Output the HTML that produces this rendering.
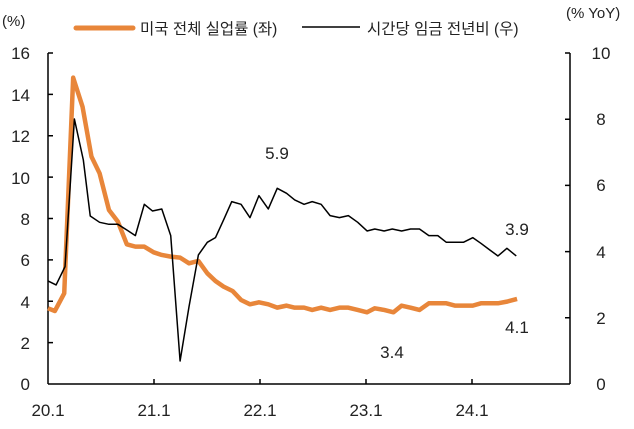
<!DOCTYPE html>
<html><head><meta charset="utf-8"><style>
body{margin:0;background:#fff}
svg text{font-family:"Liberation Sans","Noto Sans CJK KR",sans-serif;fill:#222}
</style></head><body>
<svg width="634" height="424" viewBox="0 0 634 424" xmlns="http://www.w3.org/2000/svg">
<g font-size="17">
<text x="2" y="26" font-size="15">(%)</text>
<text x="566" y="18" font-size="15">(% YoY)</text>
<line x1="76" y1="28" x2="133" y2="28" stroke="#E8863A" stroke-width="5" stroke-linecap="round"/>
<text x="140" y="34" font-size="15.5">미국 전체 실업률 (좌)</text>
<line x1="302" y1="27" x2="360" y2="27" stroke="#000" stroke-width="1.5"/>
<text x="367" y="34" font-size="15.5">시간당 임금 전년비 (우)</text>
<g text-anchor="end">
<text x="30" y="59">16</text><text x="30" y="101">14</text><text x="30" y="142">12</text><text x="30" y="184">10</text>
<text x="30" y="225">8</text><text x="30" y="266">6</text><text x="30" y="308">4</text><text x="30" y="349">2</text><text x="30" y="390">0</text>
</g>
<g text-anchor="middle">
<text x="601" y="59">10</text><text x="601" y="125">8</text><text x="601" y="191">6</text><text x="601" y="258">4</text><text x="601" y="324">2</text><text x="601" y="390">0</text>
<text x="48" y="416">20.1</text><text x="154" y="416">21.1</text><text x="260" y="416">22.1</text><text x="366" y="416">23.1</text><text x="472" y="416">24.1</text>
<text x="277" y="159">5.9</text><text x="517" y="235">3.9</text><text x="517" y="333">4.1</text><text x="392" y="358">3.4</text>
</g>
</g>
<g stroke="#000" stroke-width="1.5" fill="none">
<line x1="48" y1="53" x2="48" y2="384"/><line x1="570" y1="53" x2="570" y2="384"/><line x1="48" y1="384" x2="570" y2="384"/>
<path d="M48 53h5M48 94.4h5M48 135.8h5M48 177.1h5M48 218.5h5M48 259.9h5M48 301.3h5M48 342.6h5M565 53h5M565 119.2h5M565 185.4h5M565 251.6h5M565 317.8h5M154 384v-5M260 384v-5M366 384v-5M472 384v-5"/>
</g>
<g transform="scale(0.4065,0.3333)" fill="none" stroke-linejoin="round">
<polyline vector-effect="non-scaling-stroke" stroke="#E8863A" stroke-width="4.5" points="118,925 135,933 158,880 180,233 203,320 225,470 245,520 268,630 290,665 312,733 333,740 355,740 378,757 398,765 420,770 443,773 465,790 488,783 510,820 530,843 550,860 572,873 593,900 615,913 637,907 660,913 682,923 705,917 725,923 748,923 768,930 790,923 812,930 835,923 857,923 880,930 903,937 922,925 945,930 968,937 988,917 1010,923 1032,930 1055,910 1077,910 1098,910 1120,917 1140,917 1163,917 1183,910 1205,910 1225,910 1247,905 1272,897"/>
<polyline vector-effect="non-scaling-stroke" stroke="#000" stroke-width="1.5" points="118,843 138,855 160,800 183,357 205,480 222,648 245,667 268,673 290,673 312,690 333,707 355,613 375,633 398,627 420,707 443,1083 465,920 488,765 510,727 530,713 550,660 570,605 593,613 615,653 637,587 660,627 682,565 705,580 725,600 748,613 768,605 790,613 812,647 835,653 857,647 880,667 903,693 922,687 945,693 965,687 988,693 1010,687 1032,687 1055,707 1077,707 1098,727 1120,727 1140,727 1163,713 1183,730 1205,750 1225,768 1247,745 1270,768"/>
</g>
</svg>
</body></html>
